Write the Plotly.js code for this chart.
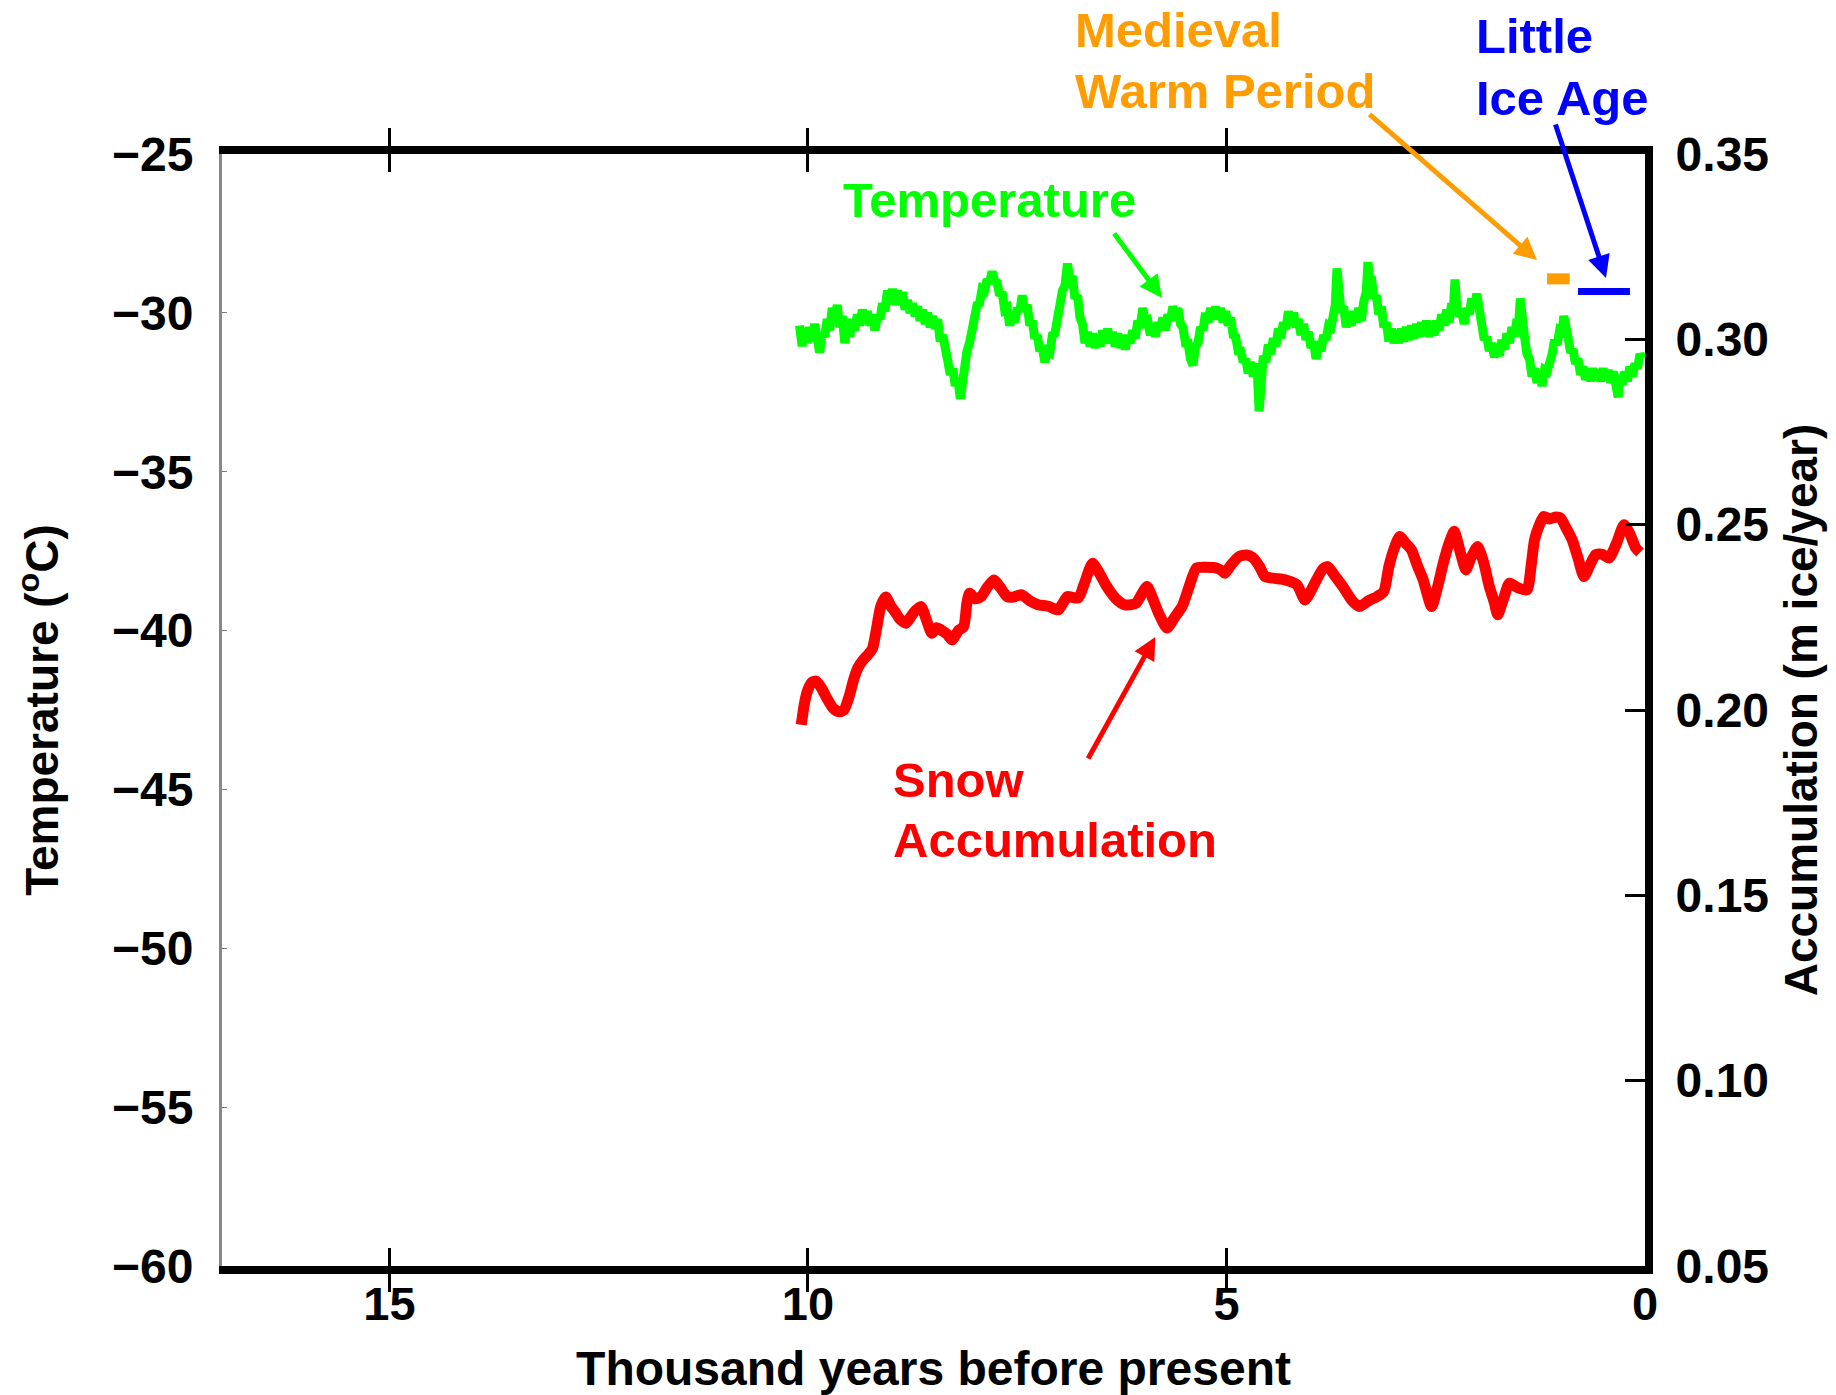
<!DOCTYPE html>
<html>
<head>
<meta charset="utf-8">
<script src="https://cdn.plot.ly/plotly-3.0.1.min.js"></script>
<style>
  html, body { margin: 0; padding: 0; background: #ffffff; }
  #chart { width: 1836px; height: 1395px; }
</style>
</head>
<body>
<div id="chart"></div>
<script>
// Holocene ice-core record: temperature and snow accumulation (thousand years before present)

// Temperature record (deg C)
const ageTemp = [
  10.10,10.07,10.04,10.01,9.98,9.95,9.92,9.89,9.86,9.83,9.80,9.77,9.74,9.71,9.68,9.65,9.62,9.59,9.56,9.53,
  9.50,9.47,9.44,9.41,9.38,9.35,9.32,9.29,9.26,9.23,9.20,9.17,9.14,9.11,9.08,9.05,9.02,8.99,8.96,8.93,
  8.90,8.87,8.84,8.81,8.78,8.75,8.72,8.69,8.66,8.63,8.60,8.57,8.54,8.51,8.48,8.45,8.42,8.39,8.36,8.33,
  8.30,8.27,8.24,8.21,8.18,8.16,8.14,8.12,8.10,8.07,8.04,8.01,7.98,7.95,7.92,7.89,7.86,7.83,7.80,7.77,
  7.74,7.71,7.68,7.65,7.62,7.59,7.56,7.53,7.50,7.47,7.44,7.41,7.38,7.35,7.32,7.29,7.26,7.23,7.20,7.17,
  7.14,7.11,7.08,7.05,7.02,6.99,6.96,6.93,6.90,6.87,6.84,6.81,6.78,6.75,6.72,6.69,6.66,6.63,6.60,6.57,
  6.54,6.51,6.48,6.45,6.42,6.39,6.36,6.33,6.30,6.27,6.24,6.21,6.18,6.15,6.12,6.09,6.06,6.03,6.00,5.97,
  5.94,5.91,5.88,5.85,5.82,5.79,5.76,5.73,5.70,5.67,5.64,5.61,5.58,5.55,5.52,5.49,5.46,5.43,5.40,5.37,
  5.34,5.31,5.28,5.25,5.22,5.19,5.16,5.13,5.10,5.07,5.04,5.01,4.98,4.95,4.92,4.89,4.86,4.83,4.80,4.77,
  4.74,4.71,4.68,4.65,4.63,4.61,4.59,4.56,4.53,4.50,4.47,4.44,4.41,4.38,4.35,4.32,4.29,4.26,4.23,4.20,
  4.17,4.14,4.11,4.08,4.05,4.02,3.99,3.96,3.93,3.90,3.87,3.84,3.81,3.78,3.75,3.72,3.70,3.68,3.66,3.63,
  3.60,3.57,3.54,3.51,3.48,3.45,3.42,3.39,3.36,3.33,3.31,3.29,3.27,3.24,3.21,3.18,3.15,3.12,3.09,3.06,
  3.03,3.00,2.97,2.94,2.91,2.88,2.85,2.82,2.79,2.76,2.73,2.70,2.67,2.64,2.61,2.58,2.55,2.52,2.49,2.46,
  2.43,2.40,2.37,2.34,2.31,2.29,2.27,2.25,2.22,2.19,2.16,2.13,2.10,2.07,2.04,2.01,1.98,1.95,1.92,1.89,
  1.86,1.83,1.80,1.77,1.74,1.71,1.68,1.65,1.62,1.59,1.56,1.53,1.51,1.49,1.47,1.44,1.41,1.38,1.35,1.32,
  1.29,1.26,1.23,1.20,1.17,1.14,1.11,1.08,1.05,1.02,0.99,0.97,0.95,0.92,0.89,0.86,0.83,0.80,0.77,0.74,
  0.71,0.68,0.65,0.62,0.59,0.56,0.53,0.50,0.47,0.44,0.41,0.38,0.35,0.32,0.30,0.27,0.24,0.21,0.18,0.15,
  0.12,0.09,0.06,0.03
];
const temperature = [
  -30.40,-31.05,-30.50,-30.95,-30.45,-30.90,-30.35,-30.80,-31.25,-30.65,-30.75,-30.20,-30.55,-29.85,-30.20,-29.75,-30.45,-30.10,-30.95,-30.45,
  -30.75,-30.20,-30.55,-30.05,-30.40,-29.90,-30.30,-29.95,-30.40,-30.05,-30.55,-30.10,-30.20,-29.70,-29.95,-29.30,-29.65,-29.25,-29.75,-29.30,
  -29.70,-29.35,-29.90,-29.60,-30.00,-29.70,-30.10,-29.80,-30.25,-29.90,-30.35,-30.00,-30.45,-30.10,-30.50,-30.20,-30.90,-30.70,-31.40,-31.50,
  -31.95,-31.75,-32.30,-32.05,-32.70,-32.30,-31.75,-31.50,-31.20,-30.95,-30.50,-30.15,-29.75,-29.70,-29.25,-29.30,-28.95,-29.05,-28.70,-29.00,
  -29.05,-29.45,-29.35,-29.90,-29.85,-30.40,-30.00,-30.30,-29.85,-29.95,-29.45,-29.95,-29.75,-30.40,-30.25,-30.80,-30.70,-31.20,-31.10,-31.55,
  -31.20,-31.25,-30.70,-30.65,-30.05,-29.90,-29.30,-29.15,-28.45,-28.95,-28.85,-29.55,-29.45,-30.15,-30.35,-30.95,-30.60,-31.05,-30.65,-31.10,
  -30.70,-31.05,-30.55,-30.95,-30.50,-30.95,-30.60,-31.05,-30.65,-31.10,-30.70,-31.15,-30.75,-30.95,-30.55,-30.80,-30.25,-30.40,-29.85,-30.30,
  -30.25,-30.70,-30.35,-30.75,-30.30,-30.55,-30.15,-30.55,-30.05,-30.25,-29.80,-30.10,-29.85,-30.35,-30.45,-30.95,-30.95,-31.45,-31.65,-31.05,
  -30.95,-30.45,-30.55,-30.00,-30.30,-29.85,-30.20,-29.80,-30.20,-29.85,-30.30,-29.95,-30.40,-30.15,-30.70,-30.75,-31.20,-31.20,-31.55,-31.45,
  -31.90,-31.55,-32.00,-31.60,-31.95,-33.10,-31.80,-31.35,-31.55,-31.00,-31.30,-30.80,-31.05,-30.50,-30.80,-30.30,-30.50,-29.95,-30.35,-30.00,
  -30.45,-30.20,-30.70,-30.35,-30.85,-30.60,-31.10,-30.90,-31.45,-31.05,-31.20,-30.70,-30.85,-30.40,-30.45,-29.90,-29.75,-28.60,-29.55,-30.00,
  -29.80,-30.45,-30.05,-30.40,-29.95,-30.30,-29.85,-30.25,-29.65,-29.35,-28.40,-29.00,-28.85,-29.55,-29.45,-30.05,-29.80,-30.45,-30.30,-30.90,
  -30.50,-30.95,-30.55,-30.95,-30.50,-30.90,-30.45,-30.85,-30.40,-30.80,-30.35,-30.75,-30.30,-30.70,-30.25,-30.75,-30.30,-30.70,-30.25,-30.55,
  -30.05,-30.40,-29.90,-30.30,-29.70,-29.90,-28.95,-29.75,-30.10,-29.95,-30.35,-29.85,-30.05,-29.55,-29.85,-29.40,-30.05,-30.20,-30.85,-30.75,
  -31.20,-30.95,-31.40,-31.05,-31.35,-30.85,-31.15,-30.65,-30.95,-30.45,-30.75,-30.20,-30.40,-29.55,-30.30,-30.75,-31.30,-31.45,-32.00,-31.75,
  -32.20,-31.90,-32.30,-31.80,-31.85,-31.35,-31.30,-30.85,-31.00,-30.55,-30.60,-30.10,-30.55,-30.75,-31.25,-31.15,-31.60,-31.45,-31.95,-31.70,
  -32.10,-31.75,-32.15,-31.75,-32.10,-31.80,-32.15,-31.75,-32.10,-31.80,-32.20,-31.85,-32.25,-32.65,-31.95,-32.25,-31.85,-32.15,-31.70,-32.00,
  -31.60,-31.75,-31.30,-31.45
];

// Snow accumulation record (m ice / year)
const ageAccum = [
  10.08,10.04,10.00,9.95,9.90,9.84,9.77,9.70,9.63,9.57,9.51,9.45,9.40,9.34,9.28,9.23,9.18,9.13,9.07,9.01,
  8.96,8.90,8.83,8.74,8.65,8.58,8.52,8.46,8.41,8.34,8.28,8.20,8.14,8.10,8.07,8.00,7.93,7.86,7.78,7.70,
  7.62,7.54,7.45,7.35,7.25,7.13,7.01,6.95,6.90,6.77,6.70,6.60,6.52,6.43,6.32,6.22,6.12,6.08,5.95,5.88,
  5.81,5.71,5.62,5.53,5.45,5.36,5.25,5.12,5.05,5.02,4.95,4.85,4.76,4.68,4.60,4.54,4.42,4.30,4.16,4.06,
  3.95,3.85,3.79,3.70,3.61,3.50,3.41,3.30,3.20,3.12,3.06,2.99,2.93,2.86,2.79,2.72,2.65,2.55,2.48,2.41,
  2.34,2.28,2.20,2.14,2.08,2.00,1.93,1.86,1.80,1.76,1.69,1.62,1.52,1.41,1.36,1.32,1.26,1.21,1.14,1.08,
  1.01,0.94,0.87,0.80,0.73,0.66,0.59,0.51,0.43,0.34,0.25,0.18,0.11,0.06
];
const accumulation = [
  0.1960,0.2020,0.2055,0.2075,0.2078,0.2060,0.2030,0.2005,0.1995,0.2000,0.2035,0.2085,0.2115,0.2135,0.2150,0.2165,0.2220,0.2280,0.2305,0.2280,
  0.2265,0.2245,0.2234,0.2262,0.2279,0.2240,0.2207,0.2222,0.2216,0.2205,0.2189,0.2215,0.2225,0.2290,0.2315,0.2300,0.2306,0.2330,0.2351,0.2330,
  0.2306,0.2305,0.2311,0.2295,0.2284,0.2280,0.2270,0.2290,0.2306,0.2302,0.2340,0.2396,0.2370,0.2333,0.2300,0.2284,0.2285,0.2288,0.2333,0.2300,
  0.2261,0.2221,0.2250,0.2279,0.2330,0.2383,0.2385,0.2383,0.2375,0.2369,0.2390,0.2414,0.2418,0.2410,0.2385,0.2360,0.2355,0.2351,0.2338,0.2297,
  0.2340,0.2380,0.2387,0.2360,0.2333,0.2295,0.2279,0.2295,0.2306,0.2320,0.2387,0.2440,0.2468,0.2450,0.2432,0.2390,0.2351,0.2279,0.2330,0.2396,
  0.2450,0.2482,0.2420,0.2378,0.2410,0.2441,0.2400,0.2333,0.2290,0.2257,0.2300,0.2342,0.2330,0.2324,0.2390,0.2459,0.2500,0.2522,0.2515,0.2520,
  0.2518,0.2490,0.2459,0.2410,0.2360,0.2390,0.2419,0.2420,0.2410,0.2450,0.2500,0.2475,0.2437,0.2425
];

// Historical climate episodes (span in kyr BP, level on the temperature scale)
const medievalAge = [1.17, 0.90];
const medievalTemp = [-28.93, -28.93];
const littleIceAge = [0.80, 0.18];
const littleIceTemp = [-29.33, -29.33];

// Axis ticks
const ageTicks = [15, 10, 5, 0];
const tempTicks = [-60, -55, -50, -45, -40, -35, -30, -25];
const accumTicks = [0.05, 0.10, 0.15, 0.20, 0.25, 0.30, 0.35];

const FONT = 'Liberation Sans, Arial, Helvetica, sans-serif';
const GREEN = '#00ff00', RED = '#ff0000', ORANGE = '#ff9c00', BLUE = '#0000ff';

const traces = [
  { x: ageTemp, y: temperature, type: 'scatter', mode: 'lines',
    line: { color: GREEN, width: 9, shape: 'linear' }, yaxis: 'y', hoverinfo: 'skip' },
  { x: ageAccum, y: accumulation, type: 'scatter', mode: 'lines',
    line: { color: RED, width: 11, shape: 'spline', smoothing: 0.6 }, yaxis: 'y2', hoverinfo: 'skip' },
  { x: medievalAge, y: medievalTemp, type: 'scatter', mode: 'lines',
    line: { color: ORANGE, width: 11 }, yaxis: 'y', hoverinfo: 'skip' },
  { x: littleIceAge, y: littleIceTemp, type: 'scatter', mode: 'lines',
    line: { color: BLUE, width: 7 }, yaxis: 'y', hoverinfo: 'skip' }
];

// one annotation per text line, so line spacing stays fixed
function label(text, x, y, color) {
  return { text: text, xref: 'paper', yref: 'paper', x: x, y: y,
    xanchor: 'left', yanchor: 'middle', align: 'left', showarrow: false,
    font: { family: FONT, size: 49, color: color, weight: 'bold' } };
}
function arrow(x, y, yref, ax, ay, color, w) {
  return { text: '', xref: 'x', yref: yref, x: x, y: y, ax: ax, ay: ay,
    showarrow: true, arrowhead: 2, arrowsize: 0.9, arrowwidth: w, arrowcolor: color };
}

const layout = {
  width: 1836, height: 1395,
  paper_bgcolor: '#ffffff', plot_bgcolor: '#ffffff',
  showlegend: false,
  margin: { l: 222, r: 191, t: 154, b: 129, pad: 0 },
  font: { family: FONT, color: '#000000', weight: 'bold' },
  xaxis: {
    range: [17, 0], tickvals: ageTicks, ticktext: ageTicks.map(String),
    ticks: 'inside', ticklen: 18, tickwidth: 3, tickcolor: '#000000',
    showline: true, linewidth: 8, linecolor: '#000000', mirror: 'allticks',
    showgrid: false, zeroline: false, automargin: false,
    tickfont: { family: FONT, size: 47, color: '#000000', weight: 'bold' },
    ticklabelstandoff: -10,
    title: { text: 'Thousand years before present', standoff: 26,
      font: { family: FONT, size: 48, color: '#000000', weight: 'bold' } }
  },
  yaxis: {
    range: [-60, -25], tickvals: tempTicks,
    ticks: 'inside', ticklen: 5, tickwidth: 1, tickcolor: '#777777',
    showline: true, linewidth: 3, linecolor: '#888888',
    showgrid: false, zeroline: false, automargin: false,
    tickfont: { family: FONT, size: 48, color: '#000000', weight: 'bold' },
    ticklabelstandoff: 16,
    title: { text: 'Temperature (<sup>o</sup>C)', standoff: 39,
      font: { family: FONT, size: 46, color: '#000000', weight: 'bold' } }
  },
  yaxis2: {
    overlaying: 'y', side: 'right',
    range: [0.05, 0.35], tickvals: accumTicks, tickformat: '.2f',
    ticks: 'inside', ticklen: 20, tickwidth: 3, tickcolor: '#000000',
    showline: true, linewidth: 8, linecolor: '#000000',
    showgrid: false, zeroline: false, automargin: false,
    tickfont: { family: FONT, size: 48, color: '#000000', weight: 'bold' },
    ticklabelstandoff: 13,
    title: { text: 'Accumulation (m ice/year)', standoff: 20,
      font: { family: FONT, size: 46, color: '#000000', weight: 'bold' } }
  },
  annotations: [
    label('Temperature', 0.435, 0.9586, GREEN),
    label('Snow', 0.470, 0.4371, RED),
    label('Accumulation', 0.470, 0.3831, RED),
    label('Medieval', 0.598, 1.1115, ORANGE),
    label('Warm Period', 0.598, 1.0567, ORANGE),
    label('Little', 0.880, 1.1061, BLUE),
    label('Ice Age', 0.880, 1.0504, BLUE),
    arrow(5.77, -29.53, 'y', -49, -66, GREEN, 5),
    arrow(5.85, 0.2197, 'y2', -68, 123, RED, 5),
    arrow(1.29, -28.34, 'y', -169, -147, ORANGE, 5),
    arrow(0.466, -28.90, 'y', -51, -155, BLUE, 5)
  ]
};

Plotly.newPlot('chart', traces, layout, { displayModeBar: false, staticPlot: true });
</script>
</body>
</html>
